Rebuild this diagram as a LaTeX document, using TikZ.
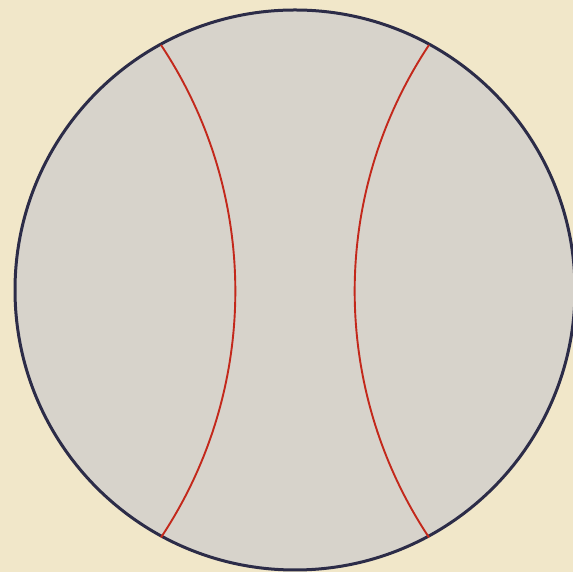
\documentclass[tikz,border=0pt]{standalone}
\usetikzlibrary{calc}
\definecolor{paperBeige}{HTML}{F1E7C9}
\definecolor{diskGray}{HTML}{D7D3CB}
\definecolor{rimNavy}{HTML}{2C2C48}
\definecolor{geoRed}{HTML}{C3281B}
\begin{document}
\begin{tikzpicture}[x=1pt, y=1pt,
    rim/.style={draw=rimNavy, line width=3pt, fill=diskGray},
    geo/.style={draw=geoRed, line width=1.9pt}]
    \fill[paperBeige] (0,0) rectangle (573,572);
    \useasboundingbox (0,0) rectangle (573,572);
    \clip (0,0) rectangle (573,572);
    \coordinate (o) at (295,282);
    \draw[rim] (o) circle[radius=280];
    % ideal end points of the two geodesics
    \coordinate (a1) at (161,527);
    \coordinate (b1) at (429,527);
    \draw[geo] (a1) arc[start angle=33.6, end angle=-33.6, radius=445];
    \draw[geo] (b1) arc[start angle=146.4, end angle=213.6, radius=445];
\end{tikzpicture}
\end{document}
